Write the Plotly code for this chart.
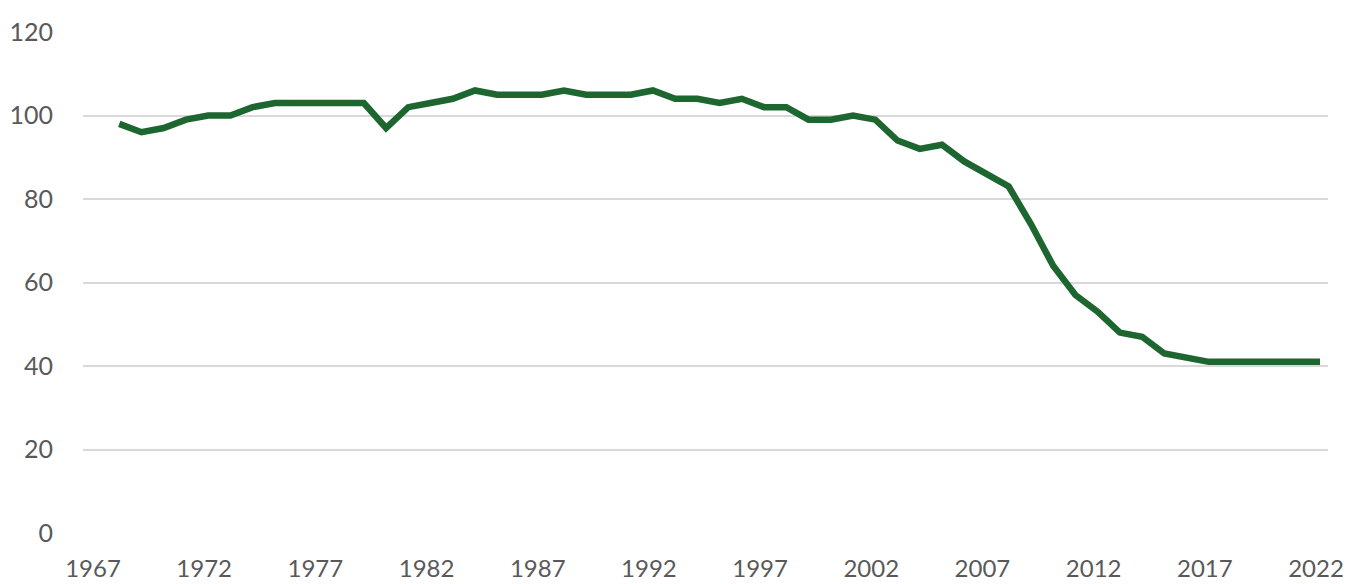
import plotly.graph_objects as go

years = list(range(1968, 2023))
values = [98, 96, 97, 99, 100, 100, 102, 103, 103, 103, 103, 103,
          97, 102, 103, 104, 106, 105, 105, 105, 106, 105, 105, 105,
          106, 104, 104, 103, 104, 102, 102, 99, 99, 100, 99, 94,
          92, 93, 89, 86, 83, 74, 64, 57, 53, 48, 47, 43,
          42, 41, 41, 41, 41, 41, 41]
x_ticks = list(range(1967, 2023, 5))
y_ticks = [0, 20, 40, 60, 80, 100, 120]

fig = go.Figure()
fig.add_trace(go.Scatter(
    x=years, y=values, mode="lines",
    line=dict(color="#1e6630", width=6.5),
    hoverinfo="x+y", showlegend=False,
))

font_family = "Lato, Carlito, Calibri, sans-serif"
fig.update_layout(
    width=1343, height=576,
    margin=dict(l=75, r=23, t=24, b=51, autoexpand=False),
    paper_bgcolor="white", plot_bgcolor="white",
    font=dict(family=font_family, size=25, color="#595959"),
    xaxis=dict(
        range=[1966.37, 2022.36], automargin=False,
        tickmode="array", tickvals=x_ticks, ticktext=[str(v) for v in x_ticks],
        showgrid=False, zeroline=False, showline=False,
        ticks="outside", ticklen=14, tickcolor="rgba(0,0,0,0)",
        ticklabelshift=-4,
        tickfont=dict(family=font_family, size=24, color="#595959"),
    ),
    yaxis=dict(
        range=[0, 120], automargin=False,
        tickmode="array", tickvals=y_ticks,
        showgrid=True, gridcolor="#d9d9d9", gridwidth=1.5,
        zeroline=False, showline=False,
        ticks="outside", ticklen=24, tickcolor="rgba(0,0,0,0)",
        tickfont=dict(family=font_family, size=25, color="#595959"),
    ),
)

fig.write_html("out.html")
